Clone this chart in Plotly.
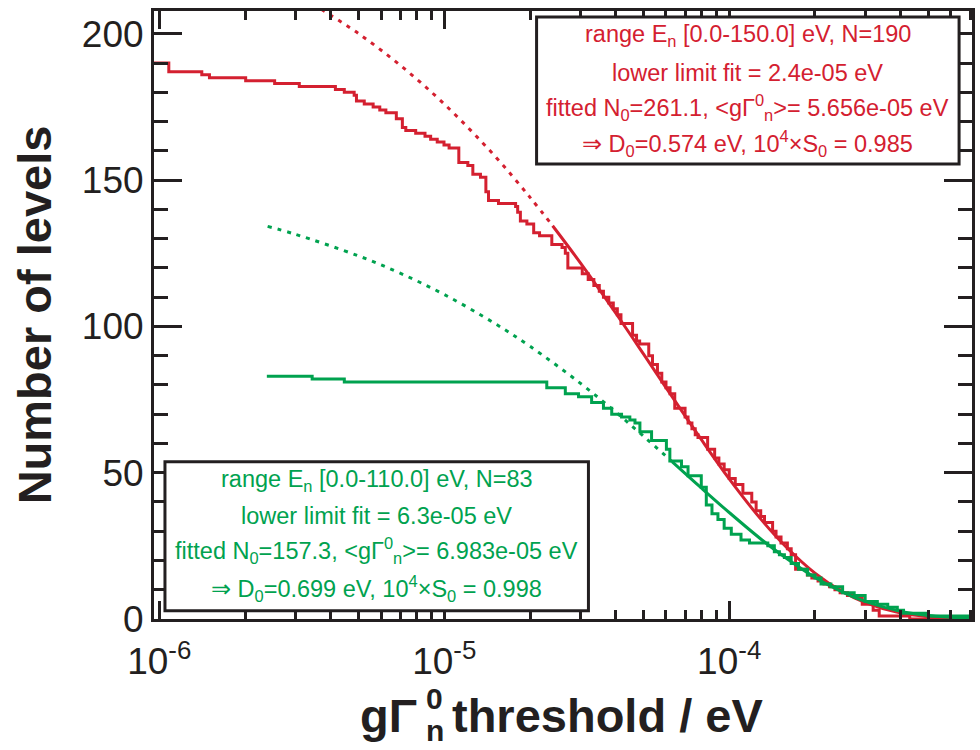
import plotly.graph_objects as go

# ---------------- data ----------------
# red: E_n in [0,150] eV, cumulative number of levels above threshold
red_x = [9.0e-7, 1.08e-6, 1.41e-6, 1.50e-6, 2.01e-6, 2.54e-6, 3.10e-6, 4.15e-6, 4.46e-6, 4.83e-6,
         4.92e-6, 5.24e-6, 5.63e-6, 5.94e-6, 6.24e-6, 6.79e-6, 7.13e-6, 7.33e-6, 7.94e-6, 8.56e-6,
         8.96e-6, 9.45e-6, 9.98e-6, 1.04e-5, 1.125e-5, 1.21e-5, 1.26e-5, 1.34e-5, 1.40e-5, 1.43e-5,
         1.55e-5, 1.78e-5, 1.81e-5, 1.85e-5, 1.95e-5, 2.06e-5, 2.16e-5, 2.385e-5, 2.59e-5, 2.66e-5,
         2.715e-5, 3.05e-5, 3.2e-5, 3.35e-5, 3.5e-5, 3.62e-5, 3.78e-5, 3.92e-5, 4.05e-5, 4.17e-5,
         4.58e-5, 4.73e-5, 4.85e-5, 5.22e-5, 5.38e-5, 5.6e-5, 5.8e-5, 6.0e-5, 6.2e-5, 6.44e-5,
         7.0e-5, 7.17e-5, 7.4e-5, 7.6e-5, 7.77e-5, 8.4e-5, 8.89e-5, 9.2e-5, 9.6e-5, 1.0e-4,
         1.05e-4, 1.117e-4, 1.2e-4, 1.243e-4, 1.29e-4, 1.33e-4, 1.42e-4, 1.46e-4, 1.52e-4, 1.6e-4,
         1.65e-4, 1.71e-4, 1.88e-4, 1.95e-4, 2.05e-4, 2.15e-4, 2.25e-4, 2.35e-4, 2.45e-4, 2.6e-4,
         2.8e-4, 2.93e-4, 3.2e-4, 3.36e-4, 4.3e-4, 6.5e-4]
red_n = [190, 187, 186, 185, 184, 183, 182, 181, 180, 179,
         177, 176, 175, 174, 173, 171, 168, 167, 166, 165,
         164, 163, 162, 161, 156, 155, 152, 151, 146, 143,
         142, 141, 139, 136, 135, 132, 131, 128, 127, 125,
         120, 118, 116, 114, 112, 110, 108, 106, 104, 101,
         97, 95, 94, 90, 87, 84, 81, 79, 77, 72,
         69, 67, 65, 63, 62, 58, 55, 53, 51, 48,
         46, 43, 40, 37, 35, 33, 30, 28, 26, 24,
         22, 17, 15, 14, 13, 12, 11, 10, 9, 8,
         7, 5, 3, 1, 0, 0]

# red fitted curve: dotted below the lower fit limit, solid above
red_fit_dot_x = [3.7e-6, 5e-6, 7e-6, 1e-5, 1.5e-5, 2e-5, 2.4e-5]
red_fit_dot_n = [208.4, 200.1, 189.3, 176.0, 158.4, 144.1, 134.4]
red_fit_x = [2.4e-5, 3e-5, 4e-5, 5e-5, 6e-5, 8e-5, 1e-4, 1.3e-4, 1.6e-4, 2e-4, 2.5e-4, 3e-4, 4e-4, 5e-4, 7e-4]
red_fit_n = [134.4, 121.8, 104.5, 90.6, 79.1, 61.2, 47.9, 33.8, 24.2, 15.7, 9.3, 5.6, 2.0, 0.8, 0.1]

# green: E_n in [0,110] eV
green_x = [2.385e-6, 3.44e-6, 4.46e-6, 2.29e-5, 2.66e-5, 2.96e-5, 3.29e-5, 3.62e-5, 3.87e-5, 4.19e-5,
           4.48e-5, 4.67e-5, 4.86e-5, 5.34e-5, 6.02e-5, 6.19e-5, 6.80e-5, 7.17e-5, 7.98e-5, 8.31e-5,
           8.7e-5, 9.13e-5, 9.6e-5, 1.017e-4, 1.1e-4, 1.178e-4, 1.366e-4, 1.44e-4, 1.5e-4, 1.562e-4,
           1.65e-4, 1.75e-4, 1.884e-4, 2.0e-4, 2.1e-4, 2.274e-4, 2.5e-4, 2.745e-4, 3.0e-4, 3.31e-4,
           3.6e-4, 3.89e-4, 4.09e-4, 4.97e-4, 1.0e-3]
green_n = [83, 82, 81, 79, 77, 76, 74, 72, 70, 69,
           68, 67, 64, 61, 58, 54, 52, 49, 45, 39,
           36, 34, 31, 29, 27, 26, 25, 23, 22, 21,
           19, 17, 15, 14, 12, 11, 9, 8, 6, 5,
           4, 3, 2, 1, 1]

green_fit_dot_x = [2.4e-6, 3e-6, 5e-6, 7e-6, 1e-5, 1.5e-5, 2e-5, 3e-5, 4e-5, 5e-5, 6.3e-5]
green_fit_dot_n = [134.2, 131.5, 124.1, 118.2, 110.9, 101.1, 93.2, 80.6, 70.7, 62.5, 53.8]
green_fit_x = [6.3e-5, 8e-5, 1e-4, 1.3e-4, 1.6e-4, 2e-4, 2.5e-4, 3e-4, 4e-4, 5e-4, 7e-4]
green_fit_n = [53.8, 44.7, 36.4, 27.1, 20.5, 14.2, 9.2, 6.0, 2.6, 1.2, 0.2]

# axis ticks
x_major = [1e-6, 1e-5, 1e-4]
x_major_text = ["10<sup>-6</sup>", "10<sup>-5</sup>", "10<sup>-4</sup>"]
x_minor = [2e-6, 3e-6, 4e-6, 5e-6, 6e-6, 7e-6, 8e-6, 9e-6,
           2e-5, 3e-5, 4e-5, 5e-5, 6e-5, 7e-5, 8e-5, 9e-5,
           2e-4, 3e-4, 4e-4, 5e-4, 6e-4, 7e-4]

red_text = ["range E<sub>n</sub> [0.0-150.0] eV, N=190",
            "lower limit fit = 2.4e-05 eV",
            "fitted N<sub>0</sub>=261.1, &lt;gΓ<sup>0</sup><sub>n</sub>&gt;= 5.656e-05 eV",
            "⇒ D<sub>0</sub>=0.574 eV, 10<sup>4</sup>×S<sub>0</sub> = 0.985"]
green_text = ["range E<sub>n</sub> [0.0-110.0] eV, N=83",
              "lower limit fit = 6.3e-05 eV",
              "fitted N<sub>0</sub>=157.3, &lt;gΓ<sup>0</sup><sub>n</sub>&gt;= 6.983e-05 eV",
              "⇒ D<sub>0</sub>=0.699 eV, 10<sup>4</sup>×S<sub>0</sub> = 0.998"]

# x-axis title pieces (g Gamma with stacked 0 / n, then the rest)
xt_main = "<b>gΓ</b>"
xt_sup = "<b>0</b>"
xt_sub = "<b>n</b>"
xt_rest = "<b>threshold / eV</b>"

# ---------------- styling ----------------
RED = "#d42030"
GREEN = "#00a24f"
K = "#231f20"
FONT = "Liberation Sans, Arial, Helvetica, sans-serif"

fig = go.Figure()
fig.add_trace(go.Scatter(x=red_x, y=red_n, mode="lines",
                         line=dict(color=RED, width=3, shape="hv")))
fig.add_trace(go.Scatter(x=red_fit_dot_x, y=red_fit_dot_n, mode="lines",
                         line=dict(color=RED, width=3, dash="4px,6px", shape="spline")))
fig.add_trace(go.Scatter(x=red_fit_x, y=red_fit_n, mode="lines",
                         line=dict(color=RED, width=3, shape="spline")))
fig.add_trace(go.Scatter(x=green_x, y=green_n, mode="lines",
                         line=dict(color=GREEN, width=3, shape="hv")))
fig.add_trace(go.Scatter(x=green_fit_dot_x, y=green_fit_dot_n, mode="lines",
                         line=dict(color=GREEN, width=3, dash="4px,6px", shape="spline")))
fig.add_trace(go.Scatter(x=green_fit_x, y=green_fit_n, mode="lines",
                         line=dict(color=GREEN, width=3, shape="spline")))

fig.update_layout(
    width=980, height=750,
    margin=dict(l=154, r=5, t=11, b=131),
    paper_bgcolor="white", plot_bgcolor="white",
    showlegend=False,
    font=dict(family=FONT, color=K),
)

fig.update_xaxes(
    type="log", range=[-6.0185, -3.148],
    showline=True, linewidth=3, linecolor=K, mirror="ticks",
    ticks="inside", ticklen=18, tickwidth=2.5, tickcolor=K,
    tickmode="array", tickvals=x_major, ticktext=x_major_text,
    tickfont=dict(family=FONT, size=37, color=K),
    ticklabelstandoff=8,
    minor=dict(ticks="inside", ticklen=9, tickwidth=2.5, tickcolor=K,
               tickmode="array", tickvals=x_minor, showgrid=False),
    showgrid=False, zeroline=False,
)
fig.update_yaxes(
    range=[0, 207.8],
    showline=True, linewidth=3, linecolor=K, mirror="ticks",
    ticks="inside", ticklen=28, tickwidth=2.5, tickcolor=K,
    tick0=0, dtick=50,
    tickfont=dict(family=FONT, size=37, color=K),
    minor=dict(ticks="inside", ticklen=14, tickwidth=2.5, tickcolor=K,
               dtick=10, tick0=0, showgrid=False),
    showgrid=False, zeroline=False,
    title=dict(text="<b>Number of levels</b>",
               font=dict(family=FONT, size=47, color=K), standoff=16),
)

# x-axis title built from pieces so the 0 / n can be stacked
fig.add_annotation(text=xt_main, xref="paper", yref="paper", x=0.324, y=-0.159,
                   xanchor="right", yanchor="middle", showarrow=False,
                   font=dict(family=FONT, size=47, color=K))
fig.add_annotation(text=xt_sup, xref="paper", yref="paper", x=0.3435, y=-0.131,
                   xanchor="center", yanchor="middle", showarrow=False,
                   font=dict(family=FONT, size=30, color=K))
fig.add_annotation(text=xt_sub, xref="paper", yref="paper", x=0.3435, y=-0.1835,
                   xanchor="center", yanchor="middle", showarrow=False,
                   font=dict(family=FONT, size=30, color=K))
fig.add_annotation(text=xt_rest, xref="paper", yref="paper", x=0.3618, y=-0.159,
                   xanchor="left", yanchor="middle", showarrow=False,
                   font=dict(family=FONT, size=47, color=K))

# text boxes
fig.add_shape(type="rect", xref="paper", yref="paper",
              x0=0.4677, x1=0.9842, y0=0.7485, y1=0.9901,
              line=dict(color=K, width=3), fillcolor="white", layer="above")
fig.add_shape(type="rect", xref="paper", yref="paper",
              x0=0.0134, x1=0.5311, y0=0.0137, y1=0.2586,
              line=dict(color=K, width=3), fillcolor="white", layer="above")

red_y = [0.9590, 0.8981, 0.8406, 0.7814]
green_y = [0.2274, 0.1698, 0.1123, 0.0498]
for txt, yy in zip(red_text, red_y):
    fig.add_annotation(text=txt, xref="paper", yref="paper", x=0.726, y=yy,
                       xanchor="center", yanchor="middle", showarrow=False,
                       font=dict(family=FONT, size=23.5, color=RED))
for txt, yy in zip(green_text, green_y):
    fig.add_annotation(text=txt, xref="paper", yref="paper", x=0.2722, y=yy,
                       xanchor="center", yanchor="middle", showarrow=False,
                       font=dict(family=FONT, size=23.5, color=GREEN))

fig.write_html("out.html")
